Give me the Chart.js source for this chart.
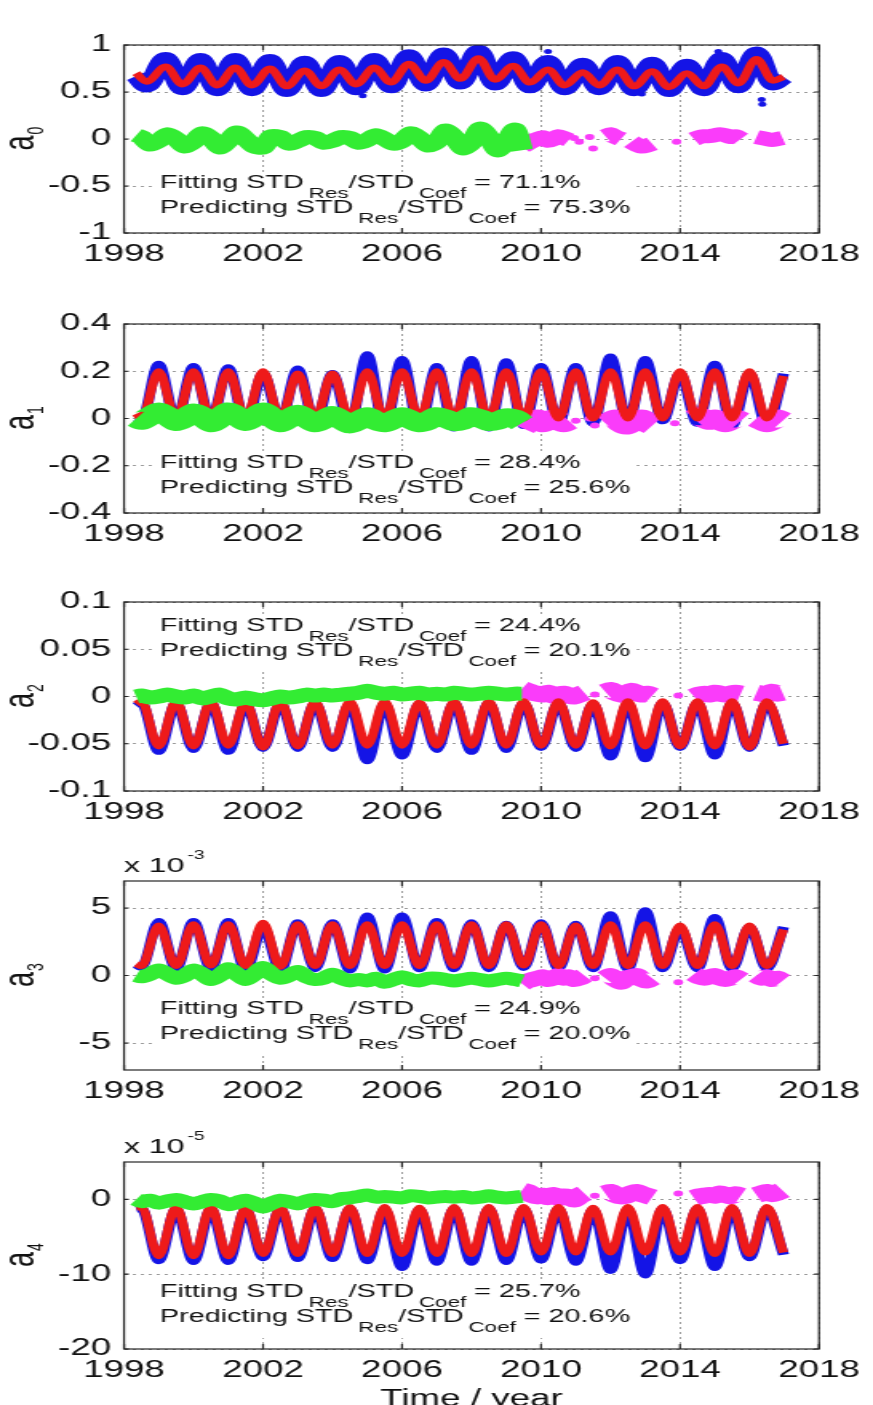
<!DOCTYPE html>
<html>
<head>
<meta charset="utf-8">
<title>Coefficients a0 - a4</title>
<script src="https://cdn.jsdelivr.net/npm/chart.js@4.4.1/dist/chart.umd.min.js"></script>
<style>
  html, body { margin: 0; padding: 0; background: #fff; overflow: hidden; }
  #figure { position: relative; width: 873px; height: 1405px; }
  #figure canvas { position: absolute; left: 0; display: block; }
</style>
</head>
<body>
<div id="figure"></div>
<script>
// ---- data ----
const years = [1998, 2002, 2006, 2010, 2014, 2018];

const a0Ticks = [-1, -0.5, 0, 0.5, 1];
const a1Ticks = [-0.4, -0.2, 0, 0.2, 0.4];
const a2Ticks = [-0.1, -0.05, 0, 0.05, 0.1];
const a3Ticks = [-5, 0, 5];
const a4Ticks = [-20, -10, 0];

// a0: start, trough, then (peak, trough) each year, end
const a0T = [1998.35, 1998.65,
  1999.2, 1999.68, 2000.2, 2000.68, 2001.2, 2001.68, 2002.2, 2002.68, 2003.2, 2003.68, 2004.2, 2004.68,
  2005.2, 2005.68, 2006.2, 2006.68, 2007.2, 2007.68, 2008.2, 2008.68, 2009.2, 2009.68, 2010.2, 2010.68,
  2011.2, 2011.68, 2012.2, 2012.68, 2013.2, 2013.68, 2014.2, 2014.68, 2015.2, 2015.68, 2016.2, 2016.68, 2016.98];
// a1..a4: start, extremes at whole and half years, end
const seasonT = [1998.35, 1998.5,
  1999, 1999.5, 2000, 2000.5, 2001, 2001.5, 2002, 2002.5, 2003, 2003.5, 2004, 2004.5,
  2005, 2005.5, 2006, 2006.5, 2007, 2007.5, 2008, 2008.5, 2009, 2009.5, 2010, 2010.5,
  2011, 2011.5, 2012, 2012.5, 2013, 2013.5, 2014, 2014.5, 2015, 2015.5, 2016, 2016.5, 2016.98];
const greenT = [1998.35, 1998.5, 1998.75,
  1999, 1999.25, 1999.5, 1999.75, 2000, 2000.25, 2000.5, 2000.75, 2001, 2001.25, 2001.5, 2001.75,
  2002, 2002.25, 2002.5, 2002.75, 2003, 2003.25, 2003.5, 2003.75, 2004, 2004.25, 2004.5, 2004.75,
  2005, 2005.25, 2005.5, 2005.75, 2006, 2006.25, 2006.5, 2006.75, 2007, 2007.25, 2007.5, 2007.75,
  2008, 2008.25, 2008.5, 2008.75, 2009, 2009.25, 2009.45];
const magT = [2009.45, 2009.6, 2009.75, 2009.9, 2010.05, 2010.2, 2010.35, 2010.5, 2010.65, 2010.8,
  2010.95, 2011.1, 2011.25, 2011.4, 2011.55, 2011.7, 2011.85, 2012.0, 2012.15, 2012.3,
  2012.45, 2012.6, 2012.75, 2012.9, 2013.05, 2013.2, 2013.35, 2013.5, 2013.65, 2013.8,
  2013.95, 2014.1, 2014.25, 2014.4, 2014.55, 2014.7, 2014.85, 2015.0, 2015.15, 2015.3,
  2015.45, 2015.6, 2015.75, 2015.9, 2016.05, 2016.2, 2016.35, 2016.5, 2016.65, 2016.8, 2016.95];

const a0Red = [0.70, 0.61,
  0.77, 0.58, 0.76, 0.57, 0.76, 0.57, 0.75, 0.56, 0.73, 0.56, 0.74, 0.58,
  0.76, 0.60, 0.80, 0.62, 0.82, 0.64, 0.86, 0.63, 0.78, 0.60, 0.74, 0.57,
  0.71, 0.57, 0.74, 0.56, 0.72, 0.55, 0.70, 0.56, 0.77, 0.59, 0.85, 0.62, 0.66];
const a0Blue = [0.67, 0.57,
  0.85, 0.54, 0.84, 0.53, 0.84, 0.53, 0.83, 0.52, 0.81, 0.52, 0.82, 0.54,
  0.84, 0.56, 0.88, 0.58, 0.90, 0.60, 0.93, 0.59, 0.86, 0.56, 0.82, 0.54,
  0.79, 0.54, 0.82, 0.53, 0.80, 0.52, 0.78, 0.53, 0.85, 0.56, 0.91, 0.59, 0.66];
const a0Green = [0.04, 0.02, -0.06, -0.02, 0.05, 0.00, -0.08, -0.03, 0.06, 0.01, -0.09, -0.02,
  0.07, 0.00, -0.08, -0.09, 0.03, 0.02, -0.05, -0.02, 0.02, 0.01, -0.04, -0.02, 0.02, 0.01,
  -0.04, -0.01, 0.04, 0.00, -0.05, -0.02, 0.06, 0.01, -0.07, -0.03, 0.09, 0.02, -0.10, -0.04,
  0.11, 0.02, -0.12, -0.03, 0.10, -0.12];
const a0Mag = [-0.08, -0.05, -0.02, 0.00, 0.02, -0.02, 0.00, 0.03, 0.01, -0.01,
  null, null, null, null, null, null,
  0.03, 0.05, 0.02, 0.00, null, -0.03, -0.06, -0.08, -0.07, -0.05,
  null, null, null, null, null, null, null,
  0.00, 0.02, 0.03, 0.03, 0.04, 0.05, 0.04, 0.02, 0.03, 0.00,
  null, null,
  0.02, 0.01, 0.00, -0.01, 0.00, 0.01];
const a0DotT = [2010.95, 2011.1, 2011.4, 2011.5, 2013.9];
const a0DotV = [0.01, -0.03, 0.02, -0.10, -0.03];
const a0OutT = [2004.87, 2010.2, 2012.9, 2015.1, 2016.35, 2016.37];
const a0OutV = [0.46, 0.93, 0.48, 0.93, 0.42, 0.37];

const a1Red = [0.02, 0.00,
  0.20, 0.00, 0.20, 0.00, 0.20, 0.00, 0.20, 0.00, 0.19, 0.00, 0.19, 0.00,
  0.20, 0.00, 0.20, 0.00, 0.20, 0.00, 0.20, 0.00, 0.20, 0.00, 0.20, 0.00,
  0.20, 0.00, 0.20, 0.00, 0.20, 0.00, 0.20, 0.00, 0.20, 0.00, 0.20, 0.00, 0.18];
const a1Blue = [0.00, -0.01,
  0.23, -0.01, 0.22, -0.01, 0.215, -0.02, 0.19, -0.01, 0.21, -0.02, 0.19, -0.03,
  0.27, -0.04, 0.25, -0.04, 0.22, -0.04, 0.25, -0.04, 0.24, -0.03, 0.22, -0.02,
  0.22, -0.02, 0.26, -0.02, 0.25, -0.01, 0.19, -0.02, 0.23, -0.03, 0.19, -0.03, 0.19];
const a1Green = [0.00, -0.01, 0.01, 0.03, 0.01, -0.015, 0.00, 0.025, 0.01, -0.02, 0.00, 0.03,
  0.01, -0.015, 0.005, 0.03, 0.005, -0.02, 0.00, 0.02, 0.00, -0.02, -0.005, 0.015, -0.005, -0.025,
  -0.01, 0.01, -0.01, -0.02, -0.005, 0.01, -0.005, -0.02, -0.01, 0.01, 0.00, -0.015, -0.01, 0.01,
  0.00, -0.015, -0.01, 0.005, 0.00, -0.02];
const a1Mag = [-0.04, -0.02, -0.01, 0.00, -0.02, -0.01, 0.00, -0.01, -0.02, -0.01,
  null, null, null, null, null, null,
  -0.02, -0.01, 0.00, -0.02, -0.03, -0.02, -0.01, 0.00, -0.02, -0.03,
  null, null, null, null, null, null, null,
  0.00, 0.01, 0.00, -0.01, 0.00, -0.01, -0.02, -0.01, 0.00, -0.01,
  null, null,
  0.00, -0.01, -0.02, -0.01, 0.00, -0.01];
const a1DotT = [2011.0, 2011.4, 2011.55, 2013.85];
const a1DotV = [-0.01, 0.00, -0.03, -0.02];

const a2Red = [-0.008, -0.005,
  -0.053, -0.005, -0.053, -0.005, -0.052, -0.006, -0.054, -0.005, -0.053, -0.005, -0.052, -0.005,
  -0.052, -0.005, -0.052, -0.006, -0.052, -0.005, -0.052, -0.005, -0.052, -0.005, -0.052, -0.005,
  -0.052, -0.006, -0.053, -0.005, -0.053, -0.005, -0.053, -0.005, -0.053, -0.005, -0.054, -0.005, -0.050];
const a2Blue = [-0.010, -0.007,
  -0.058, -0.007, -0.056, -0.007, -0.058, -0.008, -0.055, -0.007, -0.055, -0.007, -0.055, -0.008,
  -0.068, -0.008, -0.063, -0.008, -0.056, -0.007, -0.058, -0.007, -0.056, -0.007, -0.054, -0.007,
  -0.055, -0.008, -0.064, -0.008, -0.066, -0.007, -0.054, -0.007, -0.063, -0.007, -0.055, -0.007, -0.052];
const a2Green = [0.000, 0.001, -0.001, 0.000, 0.002, 0.000, -0.001, 0.001, -0.002, 0.000, 0.002,
  -0.002, -0.003, -0.001, -0.003, -0.004, -0.002, 0.000, -0.001, 0.000, 0.002, 0.001, 0.002, 0.001,
  0.002, 0.003, 0.004, 0.006, 0.004, 0.003, 0.004, 0.002, 0.003, 0.004, 0.002, 0.003, 0.002, 0.004,
  0.003, 0.002, 0.003, 0.004, 0.003, 0.002, 0.003, 0.003];
const a2Mag = [0.008, 0.006, 0.004, 0.003, 0.002, 0.004, 0.001, 0.002, 0.003, 0.001, 0.000, 0.002, 0.004,
  null, null, null,
  0.005, 0.007, 0.004, 0.002, 0.003, 0.006, 0.004, 0.002, 0.003, 0.001,
  null, null, null, null, null, null, null,
  0.000, 0.002, 0.003, 0.002, 0.004, 0.003, 0.002, 0.003, 0.004, 0.003,
  null, null,
  0.004, 0.003, 0.002, 0.005, 0.003, 0.004];
const a2DotT = [2011.55, 2013.95];
const a2DotV = [0.002, 0.001];

const a3Red = [0.85, 0.70,
  3.7, 0.70, 3.8, 0.75, 3.8, 0.70, 3.9, 0.65, 3.8, 0.70, 3.8, 0.70,
  3.8, 0.70, 3.8, 0.70, 3.8, 0.70, 3.8, 0.70, 3.8, 0.75, 3.8, 0.70,
  3.7, 0.70, 3.8, 0.70, 3.8, 0.70, 3.7, 0.70, 3.8, 0.70, 3.7, 0.70, 3.4];
const a3Blue = [0.8, 0.6,
  4.0, 0.5, 4.0, 0.5, 4.0, 0.4, 3.6, 0.4, 3.9, 0.5, 3.9, 0.4,
  4.4, 0.4, 4.4, 0.5, 4.0, 0.5, 3.9, 0.5, 3.8, 0.6, 3.9, 0.5,
  3.8, 0.5, 4.5, 0.5, 4.8, 0.5, 3.5, 0.5, 4.3, 0.5, 3.6, 0.5, 3.6];
const a3Green = [0.0, -0.1, 0.1, 0.4, 0.1, -0.2, 0.0, 0.4, 0.1, -0.3, 0.0, 0.5, 0.1, -0.3, 0.1,
  0.6, 0.1, -0.2, 0.0, 0.3, -0.1, -0.3, -0.2, 0.1, -0.2, -0.4, -0.3, -0.4, -0.2, -0.5, -0.3,
  -0.1, -0.3, -0.4, -0.2, -0.2, -0.3, -0.4, -0.3, -0.2, -0.3, -0.4, -0.3, -0.2, -0.3, -0.4];
const a3Mag = [-0.6, -0.4, -0.3, -0.2, -0.1, -0.3, -0.2, 0.0, -0.2, -0.1, -0.3, -0.2, 0.0,
  null, null, null,
  -0.2, 0.0, -0.3, -0.5, -0.2, -0.1, 0.0, -0.3, -0.4, -0.2,
  null, null, null, null, null, null, null,
  0.1, -0.1, -0.2, -0.1, 0.0, -0.2, -0.3, -0.2, -0.1, -0.3,
  null, null,
  0.0, -0.2, -0.1, -0.3, -0.2, -0.4];
const a3DotT = [2011.55, 2013.95];
const a3DotV = [-0.2, -0.5];

const a4Red = [-1.1, -1.0,
  -7.6, -1.0, -7.6, -1.0, -7.6, -1.1, -7.3, -1.0, -7.3, -1.0, -7.3, -1.0,
  -7.3, -1.0, -7.3, -1.1, -7.3, -1.0, -7.3, -1.0, -7.3, -1.0, -7.1, -1.0,
  -7.1, -1.1, -7.1, -1.0, -7.1, -1.0, -7.1, -1.0, -7.3, -1.0, -7.3, -1.0, -7.1];
const a4Blue = [-1.3, -1.2,
  -8.2, -1.3, -8.3, -1.3, -8.3, -1.4, -7.8, -1.3, -7.9, -1.3, -7.9, -1.3,
  -8.2, -1.4, -9.1, -1.4, -8.4, -1.3, -8.4, -1.3, -8.3, -1.3, -8.1, -1.3,
  -8.4, -1.4, -9.5, -1.4, -10.1, -1.3, -8.2, -1.3, -9.1, -1.3, -7.8, -1.3, -7.4];
const a4Green = [0.0, -0.3, -0.1, -0.5, -0.2, 0.0, -0.3, -0.6, -0.3, 0.0, -0.2, -0.7, -0.4, -0.1,
  -0.5, -1.0, -0.5, -0.1, -0.3, -0.6, -0.2, 0.0, -0.1, -0.3, 0.1, 0.2, 0.4, 0.6, 0.3, 0.4, 0.3,
  0.2, 0.5, 0.4, 0.2, 0.3, 0.4, 0.3, 0.4, 0.2, 0.3, 0.5, 0.3, 0.2, 0.3, 0.4];
const a4Mag = [1.2, 1.0, 0.6, 0.4, 0.5, 0.3, 0.6, 0.2, 0.4, 0.3, 0.0, 0.5, 0.8,
  null, null, null,
  0.8, 1.0, 0.6, 0.4, 0.5, 0.8, 1.0, 0.7, 0.5, 0.3,
  null, null, null, null, null, null, null,
  0.2, 0.4, 0.5, 0.6, 0.5, 0.8, 0.6, 0.4, 0.7, 0.5,
  null, null,
  0.6, 0.8, 1.0, 0.7, 0.9, 1.2];
const a4DotT = [2011.55, 2013.95];
const a4DotV = [0.5, 0.8];

const a0Note = ["71.1%", "75.3%"];
const a1Note = ["28.4%", "25.6%"];
const a2Note = ["24.4%", "20.1%"];
const a3Note = ["24.9%", "20.0%"];
const a4Note = ["25.7%", "20.6%"];

// ---- layout ----
// the original figure is stretched sideways, so every canvas is drawn narrow and widened by CSS
const W = 546;
const SX = 873 / W;
const PLOT_LEFT = 124 / SX;
const PLOT_RIGHT = 819 / SX;
const PAD_TOP = 40;
const FONT = '"Liberation Sans", Arial, Helvetica, sans-serif';
const INK = "#111111";
const BLUE = "#1414e6";
const RED = "#ee1a1a";
const GREEN = "#33ec33";
const MAGENTA = "#fa3cfa";

const panels = [
  { sub: "0", top: 45, bottom: 233, min: -1, max: 1, yTicks: a0Ticks, t: a0T,
    red: a0Red, blue: a0Blue, green: a0Green, mag: a0Mag, dotT: a0DotT, dotV: a0DotV,
    outT: a0OutT, outV: a0OutV, note: a0Note, noteY: 188, lw: { blue: 14, green: 14, mag: 14 } },
  { sub: "1", top: 324, bottom: 513, min: -0.4, max: 0.4, yTicks: a1Ticks, t: seasonT,
    red: a1Red, blue: a1Blue, green: a1Green, mag: a1Mag, dotT: a1DotT, dotV: a1DotV,
    note: a1Note, noteY: 468, lw: { blue: 7, green: 18, mag: 18 } },
  { sub: "2", top: 602, bottom: 791, min: -0.1, max: 0.1, yTicks: a2Ticks, t: seasonT,
    red: a2Red, blue: a2Blue, green: a2Green, mag: a2Mag, dotT: a2DotT, dotV: a2DotV,
    note: a2Note, noteY: 631, lw: { blue: 7, green: 14, mag: 16 } },
  { sub: "3", top: 881, bottom: 1070, min: -7, max: 7, yTicks: a3Ticks, t: seasonT,
    red: a3Red, blue: a3Blue, green: a3Green, mag: a3Mag, dotT: a3DotT, dotV: a3DotV,
    note: a3Note, noteY: 1014, exp: "-3", lw: { blue: 7, green: 13, mag: 15 } },
  { sub: "4", top: 1162, bottom: 1349, min: -20, max: 5, yTicks: a4Ticks, t: seasonT,
    red: a4Red, blue: a4Blue, green: a4Green, mag: a4Mag, dotT: a4DotT, dotV: a4DotV,
    note: a4Note, noteY: 1297, exp: "-5", xTitle: "Time / year", lw: { blue: 7, green: 13, mag: 16 } },
];

function toPoints(T, V) {
  return T.map((t, i) => ({ x: t, y: V[i] }));
}

function lineSet(data, color, width, order, extra = {}) {
  return {
    data, order,
    borderColor: color, backgroundColor: color, borderWidth: width,
    pointRadius: 0, fill: false, spanGaps: false,
    borderJoinStyle: "round", borderCapStyle: "butt",
    ...extra,
  };
}

function dotSet(data, color, radius, order) {
  return {
    data, order, showLine: false,
    borderColor: color, backgroundColor: color,
    pointRadius: radius, pointBorderWidth: 0, pointBackgroundColor: color,
  };
}

function noteParts(head, value) {
  return [[head, false], ["Res", true], ["/STD", false], ["Coef", true], [" = " + value, false]];
}

function drawRich(ctx, parts, x, y, draw) {
  for (const [text, sub] of parts) {
    ctx.font = sub ? `14px ${FONT}` : `18px ${FONT}`;
    if (sub) x += 3;
    if (draw) ctx.fillText(text, x, sub ? y + 10 : y);
    x += ctx.measureText(text).width;
  }
  return x;
}

function drawNote(ctx, a, p, canvasTop) {
  const x0 = 160 / SX;
  const b1 = p.noteY - canvasTop;
  const b2 = b1 + 25;
  const lines = [noteParts("Fitting STD", p.note[0]), noteParts("Predicting STD", p.note[1])];
  ctx.save();
  ctx.beginPath();
  ctx.rect(a.left, a.top, a.right - a.left, a.bottom - a.top);
  ctx.clip();
  ctx.textAlign = "left";
  ctx.textBaseline = "alphabetic";
  const right = Math.max(...lines.map((l) => drawRich(ctx, l, x0, 0, false)));
  ctx.fillStyle = "#fff";
  ctx.fillRect(x0 - 3, b1 - 16, right - x0 + 7, b2 - b1 + 32);
  ctx.fillStyle = INK;
  drawRich(ctx, lines[0], x0, b1, true);
  drawRich(ctx, lines[1], x0, b2, true);
  ctx.restore();
}

function drawFrame(chart) {
  const { ctx, chartArea: a, scales } = chart;
  ctx.save();
  ctx.strokeStyle = "#262626";
  ctx.lineWidth = 1.2;
  ctx.strokeRect(a.left, a.top, a.right - a.left, a.bottom - a.top);
  ctx.beginPath();
  scales.x.ticks.forEach((t) => {
    const px = scales.x.getPixelForValue(t.value);
    ctx.moveTo(px, a.bottom); ctx.lineTo(px, a.bottom - 5);
    ctx.moveTo(px, a.top); ctx.lineTo(px, a.top + 5);
  });
  scales.y.ticks.forEach((t) => {
    const py = scales.y.getPixelForValue(t.value);
    ctx.moveTo(a.left, py); ctx.lineTo(a.left + 3, py);
    ctx.moveTo(a.right, py); ctx.lineTo(a.right - 3, py);
  });
  ctx.stroke();
  ctx.restore();
}

function drawYTitle(ctx, a, sub) {
  ctx.save();
  ctx.translate(34 / SX, (a.top + a.bottom) / 2);
  ctx.rotate(-Math.PI / 2);
  ctx.fillStyle = INK;
  ctx.textAlign = "left";
  ctx.textBaseline = "alphabetic";
  ctx.font = `27px ${FONT}`;
  const wa = ctx.measureText("a").width;
  ctx.font = `14px ${FONT}`;
  const ws = ctx.measureText(sub).width;
  const x = -(wa + ws) / 2;
  ctx.font = `27px ${FONT}`;
  ctx.fillText("a", x, 0);
  ctx.font = `14px ${FONT}`;
  ctx.fillText(sub, x + wa + 1, 5.5);
  ctx.restore();
}

function drawExponent(ctx, a, exp) {
  const y = a.top - 9;
  ctx.save();
  ctx.fillStyle = INK;
  ctx.textAlign = "left";
  ctx.textBaseline = "alphabetic";
  ctx.font = `20px ${FONT}`;
  ctx.fillText("x 10", a.left, y);
  const w = ctx.measureText("x 10").width;
  ctx.font = `12px ${FONT}`;
  ctx.fillText(exp, a.left + w + 2, y - 13);
  ctx.restore();
}

function figurePlugin(p, canvasTop) {
  return {
    id: "figure",
    afterDatasetsDraw(chart) {
      drawNote(chart.ctx, chart.chartArea, p, canvasTop);
      drawFrame(chart);
    },
    afterDraw(chart) {
      drawYTitle(chart.ctx, chart.chartArea, p.sub);
      if (p.exp) drawExponent(chart.ctx, chart.chartArea, p.exp);
    },
  };
}

function axisFont() {
  return { family: FONT, size: 23 };
}

function makePanel(p) {
  const xh = p.xTitle ? 64 : 45;
  const canvasTop = p.top - PAD_TOP;
  const height = PAD_TOP + (p.bottom - p.top) + xh;

  const canvas = document.createElement("canvas");
  canvas.width = W;
  canvas.height = height;
  canvas.style.width = "873px";
  canvas.style.height = height + "px";
  canvas.style.top = canvasTop + "px";
  document.getElementById("figure").appendChild(canvas);

  const datasets = [
    lineSet(toPoints(greenT, p.green), GREEN, p.lw.green, 1, { tension: 0.25 }),
    lineSet(toPoints(p.t, p.red), RED, 6, 2, { cubicInterpolationMode: "monotone" }),
    lineSet(toPoints(magT, p.mag), MAGENTA, p.lw.mag, 3, { tension: 0.25 }),
    dotSet(toPoints(p.dotT, p.dotV), MAGENTA, 3, 4),
    lineSet(toPoints(p.t, p.blue), BLUE, p.lw.blue, 5, { cubicInterpolationMode: "monotone" }),
  ];
  if (p.outT) datasets.push(dotSet(toPoints(p.outT, p.outV), BLUE, 2.5, 6));

  const grid = { color: "#9c9c9c", lineWidth: 1, drawTicks: false };
  const border = { display: false, dash: [2, 3] };

  new Chart(canvas, {
    type: "line",
    data: { datasets },
    options: {
      responsive: false,
      animation: false,
      devicePixelRatio: 1,
      events: [],
      layout: { padding: { top: PAD_TOP, right: W - PLOT_RIGHT, bottom: 0, left: 0 } },
      plugins: { legend: { display: false }, tooltip: { enabled: false } },
      scales: {
        x: {
          type: "linear",
          min: 1998,
          max: 2018,
          afterBuildTicks: (s) => { s.ticks = years.map((v) => ({ value: v })); },
          afterFit: (s) => { s.height = xh; },
          ticks: {
            color: INK, font: axisFont(), padding: 8,
            autoSkip: false, maxRotation: 0, minRotation: 0,
            callback: (v) => String(v),
          },
          grid, border,
          title: p.xTitle
            ? { display: true, text: p.xTitle, color: INK, font: axisFont(), padding: { top: 0, bottom: 0 } }
            : { display: false },
        },
        y: {
          type: "linear",
          min: p.min,
          max: p.max,
          afterBuildTicks: (s) => { s.ticks = p.yTicks.map((v) => ({ value: v })); },
          afterFit: (s) => { s.width = PLOT_LEFT; },
          ticks: { color: INK, font: axisFont(), padding: 8, callback: (v) => String(v) },
          grid, border,
        },
      },
    },
    plugins: [figurePlugin(p, canvasTop)],
  });
}

panels.forEach(makePanel);
</script>
</body>
</html>
